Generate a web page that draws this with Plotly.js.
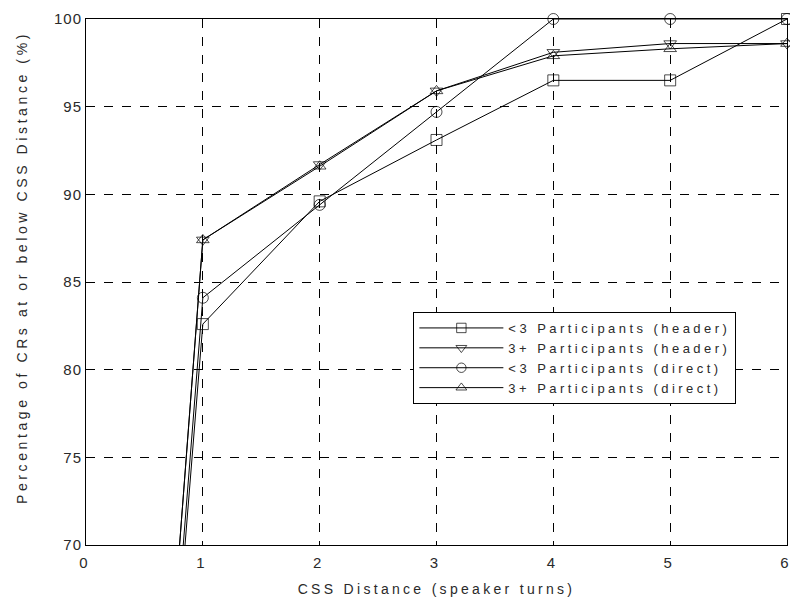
<!DOCTYPE html>
<html>
<head>
<meta charset="utf-8">
<script src="https://cdn.plot.ly/plotly-3.0.1.min.js"></script>
<style>
html, body { margin: 0; padding: 0; background: #fff; }
#chart { width: 790px; height: 604px; }
.xtitle { letter-spacing: 3.3px; }
.annotation-text { letter-spacing: 3.6px; }
.legendtext { letter-spacing: 3.45px; }
.xtick text, .ytick text { letter-spacing: 1px; }
</style>
</head>
<body>
<div id="chart"></div>
<script>
// CSS distance (speaker turns)
const cssDistance = [0, 1, 2, 3, 4, 5, 6];
// Percentage of CRs at or below CSS distance
const lt3Header = [0, 82.6, 89.6, 93.1, 96.5, 96.5, 100];
const p3Header  = [0, 87.4, 91.7, 95.9, 98.1, 98.6, 98.6];
const lt3Direct = [0, 84.1, 89.4, 94.7, 100, 100, 100];
const p3Direct  = [0, 87.4, 91.6, 95.9, 97.9, 98.3, 98.6];
const seriesNames = [
  '<3 Participants (header)',
  '3+ Participants (header)',
  '<3 Participants (direct)',
  '3+ Participants (direct)'
];
const xTickVals = [0, 1, 2, 3, 4, 5, 6];
const yTickVals = [70, 75, 80, 85, 90, 95, 100];
const xTitle = 'CSS Distance (speaker turns)';
const yTitle = 'Percentage of CRs at or below CSS Distance (%)';

const symbols = ['square-open', 'triangle-down-open', 'circle-open', 'triangle-up-open'];
const allSeries = [lt3Header, p3Header, lt3Direct, p3Direct];
const markerSizes = cssDistance.map(v => (v === 0 ? 0 : 11));

const traces = allSeries.map((ys, i) => ({
  x: cssDistance,
  y: ys,
  name: seriesNames[i],
  type: 'scatter',
  mode: 'lines+markers',
  cliponaxis: false,
  line: { color: '#000', width: 1 },
  marker: { symbol: symbols[i], size: markerSizes, color: '#000', line: { color: '#000', width: 1 } }
}));

const fam = 'Liberation Sans, Arial, sans-serif';
const txtColor = '#2a2a2a';

const layout = {
  width: 790,
  height: 604,
  margin: { l: 86, r: 3, t: 19, b: 59 },
  paper_bgcolor: '#fff',
  plot_bgcolor: '#fff',
  font: { family: fam, size: 14, color: txtColor },
  showlegend: true,
  legend: {
    x: 0.467, y: 0.443, xanchor: 'left', yanchor: 'top',
    bgcolor: '#fff', bordercolor: '#000', borderwidth: 1,
    font: { family: fam, size: 13, color: txtColor },
    itemwidth: 84,
    tracegroupgap: 0
  },
  xaxis: {
    range: [0, 6],
    tickvals: xTickVals,
    showgrid: true, gridcolor: '#000', gridwidth: 1, griddash: 'dash',
    showline: true, linecolor: '#000', linewidth: 1, mirror: true,
    zeroline: false, ticks: '', ticklen: 0,
    ticklabeloverflow: 'allow',
    ticklabelshift: -2,
    ticklabelstandoff: 4,
    tickfont: { family: fam, size: 15, color: txtColor },
    title: { text: xTitle, standoff: 14, font: { family: fam, size: 14, color: txtColor } }
  },
  yaxis: {
    range: [70, 100],
    tickvals: yTickVals,
    showgrid: true, gridcolor: '#000', gridwidth: 1, griddash: 'dash',
    showline: true, linecolor: '#000', linewidth: 1, mirror: true,
    zeroline: false, ticks: '', ticklen: 0,
    tickfont: { family: fam, size: 15, color: txtColor }
  },
  annotations: [{
    text: yTitle,
    xref: 'paper', yref: 'paper',
    x: -0.0913, y: 0.5285,
    xanchor: 'center', yanchor: 'middle',
    textangle: -90,
    showarrow: false,
    font: { family: fam, size: 14, color: txtColor }
  }]
};

Plotly.newPlot('chart', traces, layout, { displayModeBar: false, staticPlot: true });
</script>
</body>
</html>
